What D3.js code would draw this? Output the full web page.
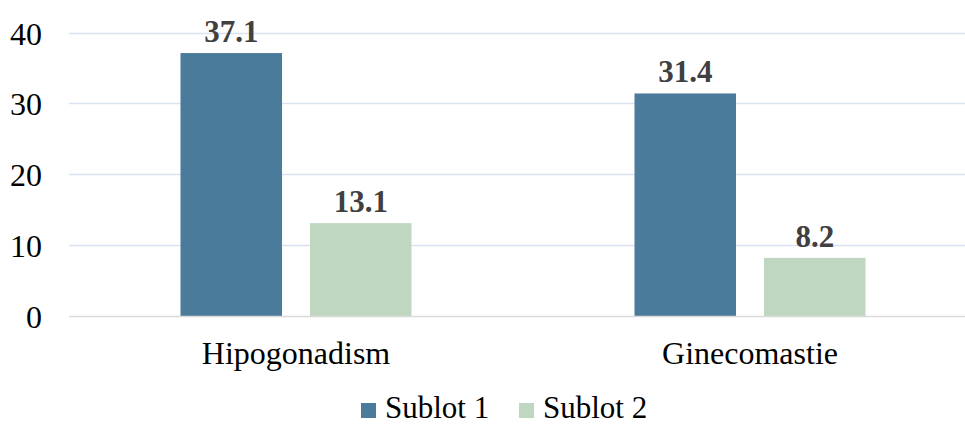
<!DOCTYPE html>
<html>
<head>
<meta charset="utf-8">
<script src="https://cdn.jsdelivr.net/npm/d3@7"></script>
<style>
  html, body { margin: 0; padding: 0; background: #fff; }
  svg { display: block; }
</style>
</head>
<body>
<div id="chart"></div>
<script>
const categories = ["Hipogonadism", "Ginecomastie"];
const seriesNames = ["Sublot 1", "Sublot 2"];
const sublot1 = [37.1, 31.4];
const sublot2 = [13.1, 8.2];
const yTicks = [0, 10, 20, 30, 40];
const colors = ["#4A7B9B", "#BFD6C1"];

const FONT = '"Liberation Serif"';
const W = 965, H = 425;
const svg = d3.select("#chart").append("svg").attr("width", W).attr("height", H);

const x = d3.scaleBand().domain(categories).range([69, 977]).paddingInner(0).paddingOuter(0);
const xSub = d3.scaleBand().domain(seriesNames).range([111.5, 454 - 111.5]).paddingInner(28 / 129.5).paddingOuter(0);
const y = d3.scaleLinear().domain([0, 40]).range([316, 32.5]);

// gridlines
svg.append("g").selectAll("line").data(yTicks.filter(d => d !== 0)).join("line")
  .attr("x1", 69).attr("x2", W)
  .attr("y1", d => Math.round(y(d)) + 0.5).attr("y2", d => Math.round(y(d)) + 0.5)
  .attr("stroke", "#D9E2F3").attr("stroke-width", 1.5);

// y axis labels
const yAxis = d3.axisLeft(y).tickValues(yTicks).tickSize(0).tickPadding(0).tickFormat(d3.format("d"));
const yg = svg.append("g").attr("transform", "translate(42,0)").call(yAxis);
yg.select(".domain").remove();
yg.selectAll("text").style("font-family", FONT).style("font-size", "32px").attr("fill", "#000").attr("dy", "0.36em");

const data = categories.map((c, i) => ({cat: c, vals: [
  {s: seriesNames[0], v: sublot1[i]}, {s: seriesNames[1], v: sublot2[i]}
]}));

const groups = svg.append("g").selectAll("g").data(data).join("g")
  .attr("transform", d => `translate(${x(d.cat)},0)`);

groups.selectAll("rect").data(d => d.vals).join("rect")
  .attr("x", d => xSub(d.s)).attr("width", xSub.bandwidth())
  .attr("y", d => y(d.v)).attr("height", d => y(0) - y(d.v))
  .attr("fill", (d, i) => colors[i]);

groups.selectAll("text.val").data(d => d.vals).join("text").attr("class", "val")
  .attr("x", d => xSub(d.s) + xSub.bandwidth() / 2)
  .attr("y", d => y(d.v) - 11)
  .attr("text-anchor", "middle")
  .style("font-family", FONT).style("font-size", "31px").style("font-weight", "bold")
  .attr("fill", "#404040")
  .text(d => d3.format(".1f")(d.v));

// baseline
svg.append("line").attr("x1", 69).attr("x2", W)
  .attr("y1", y(0) + 0.5).attr("y2", y(0) + 0.5)
  .attr("stroke", "#D9D9D9").attr("stroke-width", 1.5);

// x axis labels
const xAxis = d3.axisBottom(x).tickSize(0).tickPadding(0);
const xg = svg.append("g").attr("transform", "translate(0,364)").call(xAxis);
xg.select(".domain").remove();
xg.selectAll("text").style("font-family", FONT).style("font-size", "32px").attr("fill", "#000").attr("dy", 0);

// legend
const legendX = [361, 519];
const lg = svg.append("g").selectAll("g").data(seriesNames).join("g")
  .attr("transform", (d, i) => `translate(${legendX[i]},0)`);
lg.append("rect").attr("x", 0).attr("y", 403).attr("width", 15).attr("height", 15)
  .attr("fill", (d, i) => colors[i]);
lg.append("text").attr("x", 24).attr("y", 418)
  .style("font-family", FONT).style("font-size", "31px").attr("fill", "#000").text(d => d);
</script>
</body>
</html>
